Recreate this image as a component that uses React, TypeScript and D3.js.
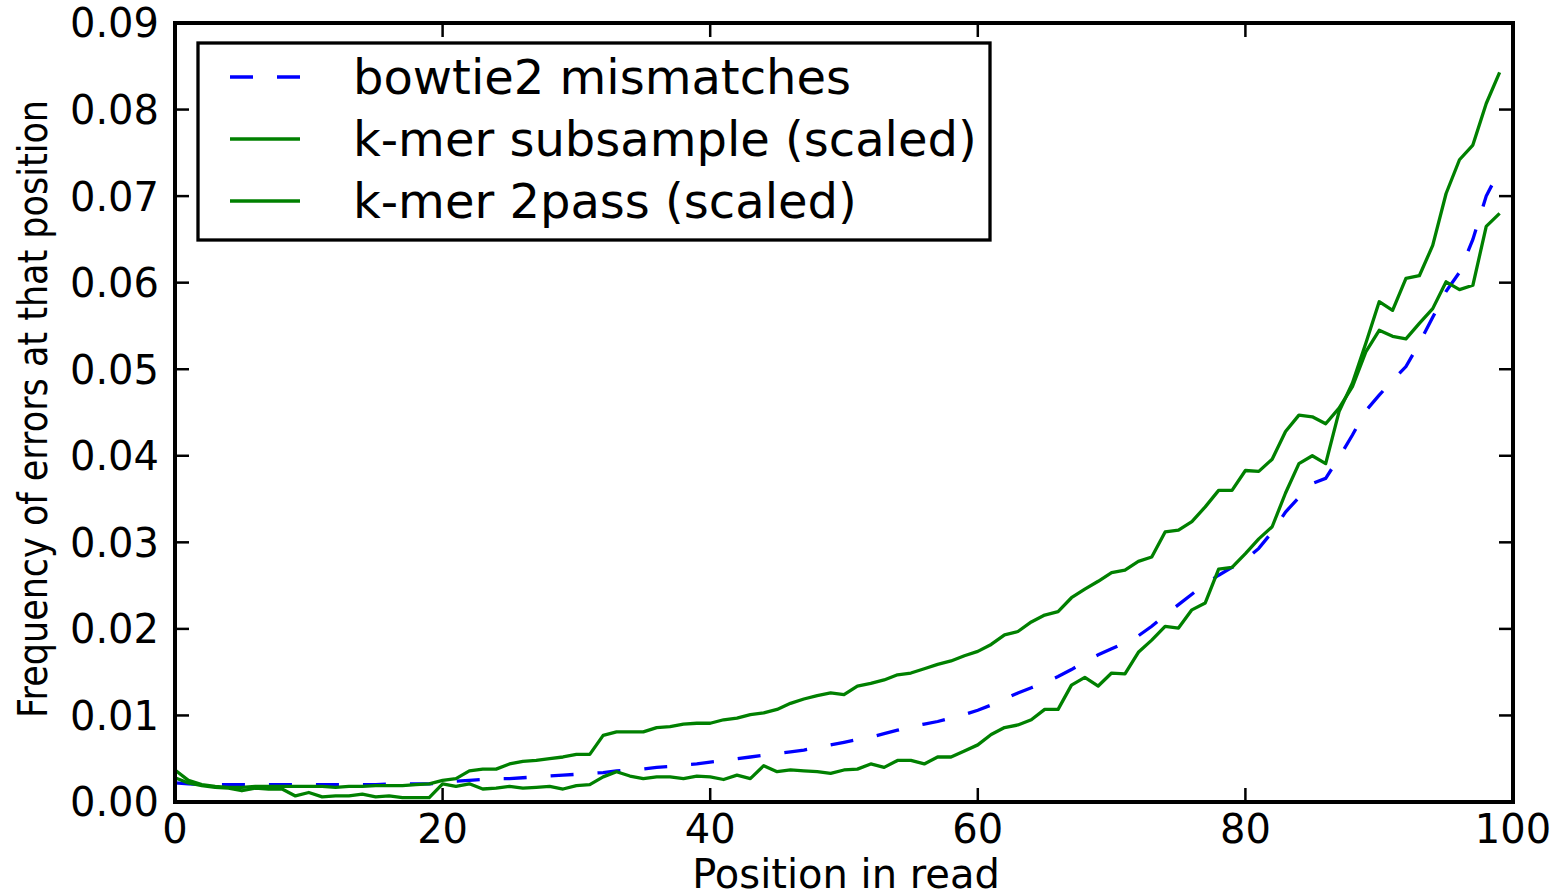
import React from 'react';
import * as d3 from 'd3';

const positions = d3.range(0, 100);

const bowtie2 = [
  0.0022, 0.0021, 0.0020, 0.0020, 0.0020, 0.0020, 0.0020, 0.0020, 0.0020, 0.0020,
  0.0020, 0.0020, 0.0020, 0.0020, 0.0020, 0.0020, 0.0021, 0.0021, 0.0021, 0.0021,
  0.0022, 0.0024, 0.0025, 0.0026, 0.0027, 0.0027, 0.0028, 0.0029, 0.0030, 0.0031,
  0.0032, 0.0033, 0.0034, 0.0036, 0.0037, 0.0038, 0.0040, 0.0041, 0.0043, 0.0044,
  0.0046, 0.0048, 0.0050, 0.0052, 0.0054, 0.0056, 0.0058, 0.0060, 0.0063, 0.0066,
  0.0069, 0.0072, 0.0075, 0.0079, 0.0083, 0.0087, 0.0090, 0.0093, 0.0097, 0.0101,
  0.0106, 0.0112, 0.0119, 0.0126, 0.0132, 0.0138, 0.0145, 0.0153, 0.0162, 0.0170,
  0.0177, 0.0184, 0.0192, 0.0203, 0.0216, 0.0228, 0.0240, 0.0252, 0.0262, 0.0271,
  0.0280, 0.0293, 0.0312, 0.0335, 0.0352, 0.0368, 0.0374, 0.0398, 0.0424, 0.0452,
  0.0470, 0.0487, 0.0503, 0.0530, 0.0560, 0.0590, 0.0612, 0.0650, 0.0700, 0.0730,
];

const kmerSubsample = [
  0.0037, 0.0025, 0.0020, 0.0018, 0.0017, 0.0017, 0.0018, 0.0018, 0.0018, 0.0018,
  0.0018, 0.0018, 0.0017, 0.0018, 0.0018, 0.0019, 0.0019, 0.0019, 0.0020, 0.0021,
  0.0025, 0.0027, 0.0036, 0.0038, 0.0038, 0.0044, 0.0047, 0.0048, 0.0050, 0.0052,
  0.0055, 0.0055, 0.0077, 0.0081, 0.0081, 0.0081, 0.0086, 0.0087, 0.0090, 0.0091,
  0.0091, 0.0095, 0.0097, 0.0101, 0.0103, 0.0107, 0.0114, 0.0119, 0.0123, 0.0126,
  0.0124, 0.0134, 0.0137, 0.0141, 0.0147, 0.0149, 0.0154, 0.0159, 0.0163, 0.0169,
  0.0174, 0.0182, 0.0193, 0.0197, 0.0208, 0.0216, 0.0220, 0.0236, 0.0246, 0.0255,
  0.0265, 0.0268, 0.0278, 0.0283, 0.0312, 0.0314, 0.0324, 0.0341, 0.0360, 0.0360,
  0.0383, 0.0382, 0.0396, 0.0428, 0.0447, 0.0445, 0.0437, 0.0455, 0.0480, 0.0520,
  0.0545, 0.0538, 0.0535, 0.0553, 0.0570, 0.0601, 0.0592, 0.0597, 0.0665, 0.0680,
];

const kmer2pass = [
  0.0028, 0.0022, 0.0019, 0.0017, 0.0016, 0.0013, 0.0016, 0.0015, 0.0015, 0.0007,
  0.0011, 0.0006, 0.0007, 0.0007, 0.0009, 0.0006, 0.0007, 0.0005, 0.0005, 0.0005,
  0.0021, 0.0018, 0.0021, 0.0015, 0.0016, 0.0018, 0.0016, 0.0017, 0.0018, 0.0015,
  0.0019, 0.0020, 0.0029, 0.0035, 0.0030, 0.0027, 0.0029, 0.0029, 0.0027, 0.0030,
  0.0029, 0.0026, 0.0031, 0.0027, 0.0042, 0.0035, 0.0037, 0.0036, 0.0035, 0.0033,
  0.0037, 0.0038, 0.0044, 0.0040, 0.0048, 0.0048, 0.0044, 0.0052, 0.0052, 0.0059,
  0.0066, 0.0078, 0.0086, 0.0089, 0.0095, 0.0107, 0.0107, 0.0135, 0.0144, 0.0134,
  0.0149, 0.0148, 0.0173, 0.0187, 0.0203, 0.0201, 0.0222, 0.0230, 0.0269, 0.0271,
  0.0287, 0.0304, 0.0318, 0.0357, 0.0391, 0.0400, 0.0391, 0.0451, 0.0484, 0.0530,
  0.0578, 0.0568, 0.0605, 0.0608, 0.0643, 0.0703, 0.0742, 0.0759, 0.0807, 0.0843,
];

const xTicks = [0, 20, 40, 60, 80, 100];
const yTicks = [0, 0.01, 0.02, 0.03, 0.04, 0.05, 0.06, 0.07, 0.08, 0.09];

const legendItems = [
  { label: 'bowtie2 mismatches', color: '#0000ff', dashed: true },
  { label: 'k-mer subsample (scaled)', color: '#008000', dashed: false },
  { label: 'k-mer 2pass (scaled)', color: '#008000', dashed: false },
];

const W = 1562;
const H = 892;
const left = 175, right = 1513, top = 23, bottom = 802;
const font = '"DejaVu Sans", sans-serif';

export default function App() {
  const x = d3.scaleLinear().domain([0, 100]).range([left, right]);
  const y = d3.scaleLinear().domain([0, 0.09]).range([bottom, top]);

  const line = d3.line<number>()
    .x((_, i) => x(positions[i]))
    .y(d => y(d));

  const tickLen = 14;
  const lw = 3.3;

  return (
    <div style={{ position: 'fixed', left: 0, top: 0 }}>
      <svg width={W} height={H} style={{ display: 'block', background: '#fff' }}>
        {/* series */}
        <path d={line(bowtie2) || ''} fill="none" stroke="#0000ff" strokeWidth={lw} strokeDasharray="23,24" />
        <path d={line(kmerSubsample) || ''} fill="none" stroke="#008000" strokeWidth={lw} strokeLinejoin="round" />
        <path d={line(kmer2pass) || ''} fill="none" stroke="#008000" strokeWidth={lw} strokeLinejoin="round" />

        {/* ticks, pointing inward on all sides */}
        {xTicks.map(t => (
          <g key={'xt' + t}>
            <line x1={x(t)} x2={x(t)} y1={bottom} y2={bottom - tickLen} stroke="#000" strokeWidth={2.5} />
            <line x1={x(t)} x2={x(t)} y1={top} y2={top + tickLen} stroke="#000" strokeWidth={2.5} />
            <text x={x(t)} y={843} textAnchor="middle" fontFamily={font} fontSize={40}>{t}</text>
          </g>
        ))}
        {yTicks.map(t => (
          <g key={'yt' + t}>
            <line x1={left} x2={left + tickLen} y1={y(t)} y2={y(t)} stroke="#000" strokeWidth={2.5} />
            <line x1={right} x2={right - tickLen} y1={y(t)} y2={y(t)} stroke="#000" strokeWidth={2.5} />
            <text x={159} y={y(t)} dy="0.36em" textAnchor="end" fontFamily={font} fontSize={40}>{t.toFixed(2)}</text>
          </g>
        ))}

        {/* frame */}
        <rect x={left} y={top} width={right - left} height={bottom - top} fill="none" stroke="#000" strokeWidth={lw + 0.7} />

        {/* axis labels */}
        <text x={846} y={888} textAnchor="middle" fontFamily={font} fontSize={40}>Position in read</text>
        <text transform="translate(47,409) rotate(-90)" textAnchor="middle" fontFamily={font} fontSize={40}
          textLength={618} lengthAdjust="spacingAndGlyphs">
          Frequency of errors at that position
        </text>

        {/* legend */}
        <rect x={198} y={43} width={792} height={197} fill="#fff" stroke="#000" strokeWidth={3.3} />
        {legendItems.map((d, i) => {
          const ly = 77 + i * 62;
          return (
            <g key={d.label}>
              <line x1={230} x2={300} y1={ly} y2={ly} stroke={d.color} strokeWidth={lw}
                strokeDasharray={d.dashed ? '23,24' : undefined} />
              <text x={353} y={ly} dy="0.36em" fontFamily={font} fontSize={48}>{d.label}</text>
            </g>
          );
        })}
      </svg>
    </div>
  );
}
